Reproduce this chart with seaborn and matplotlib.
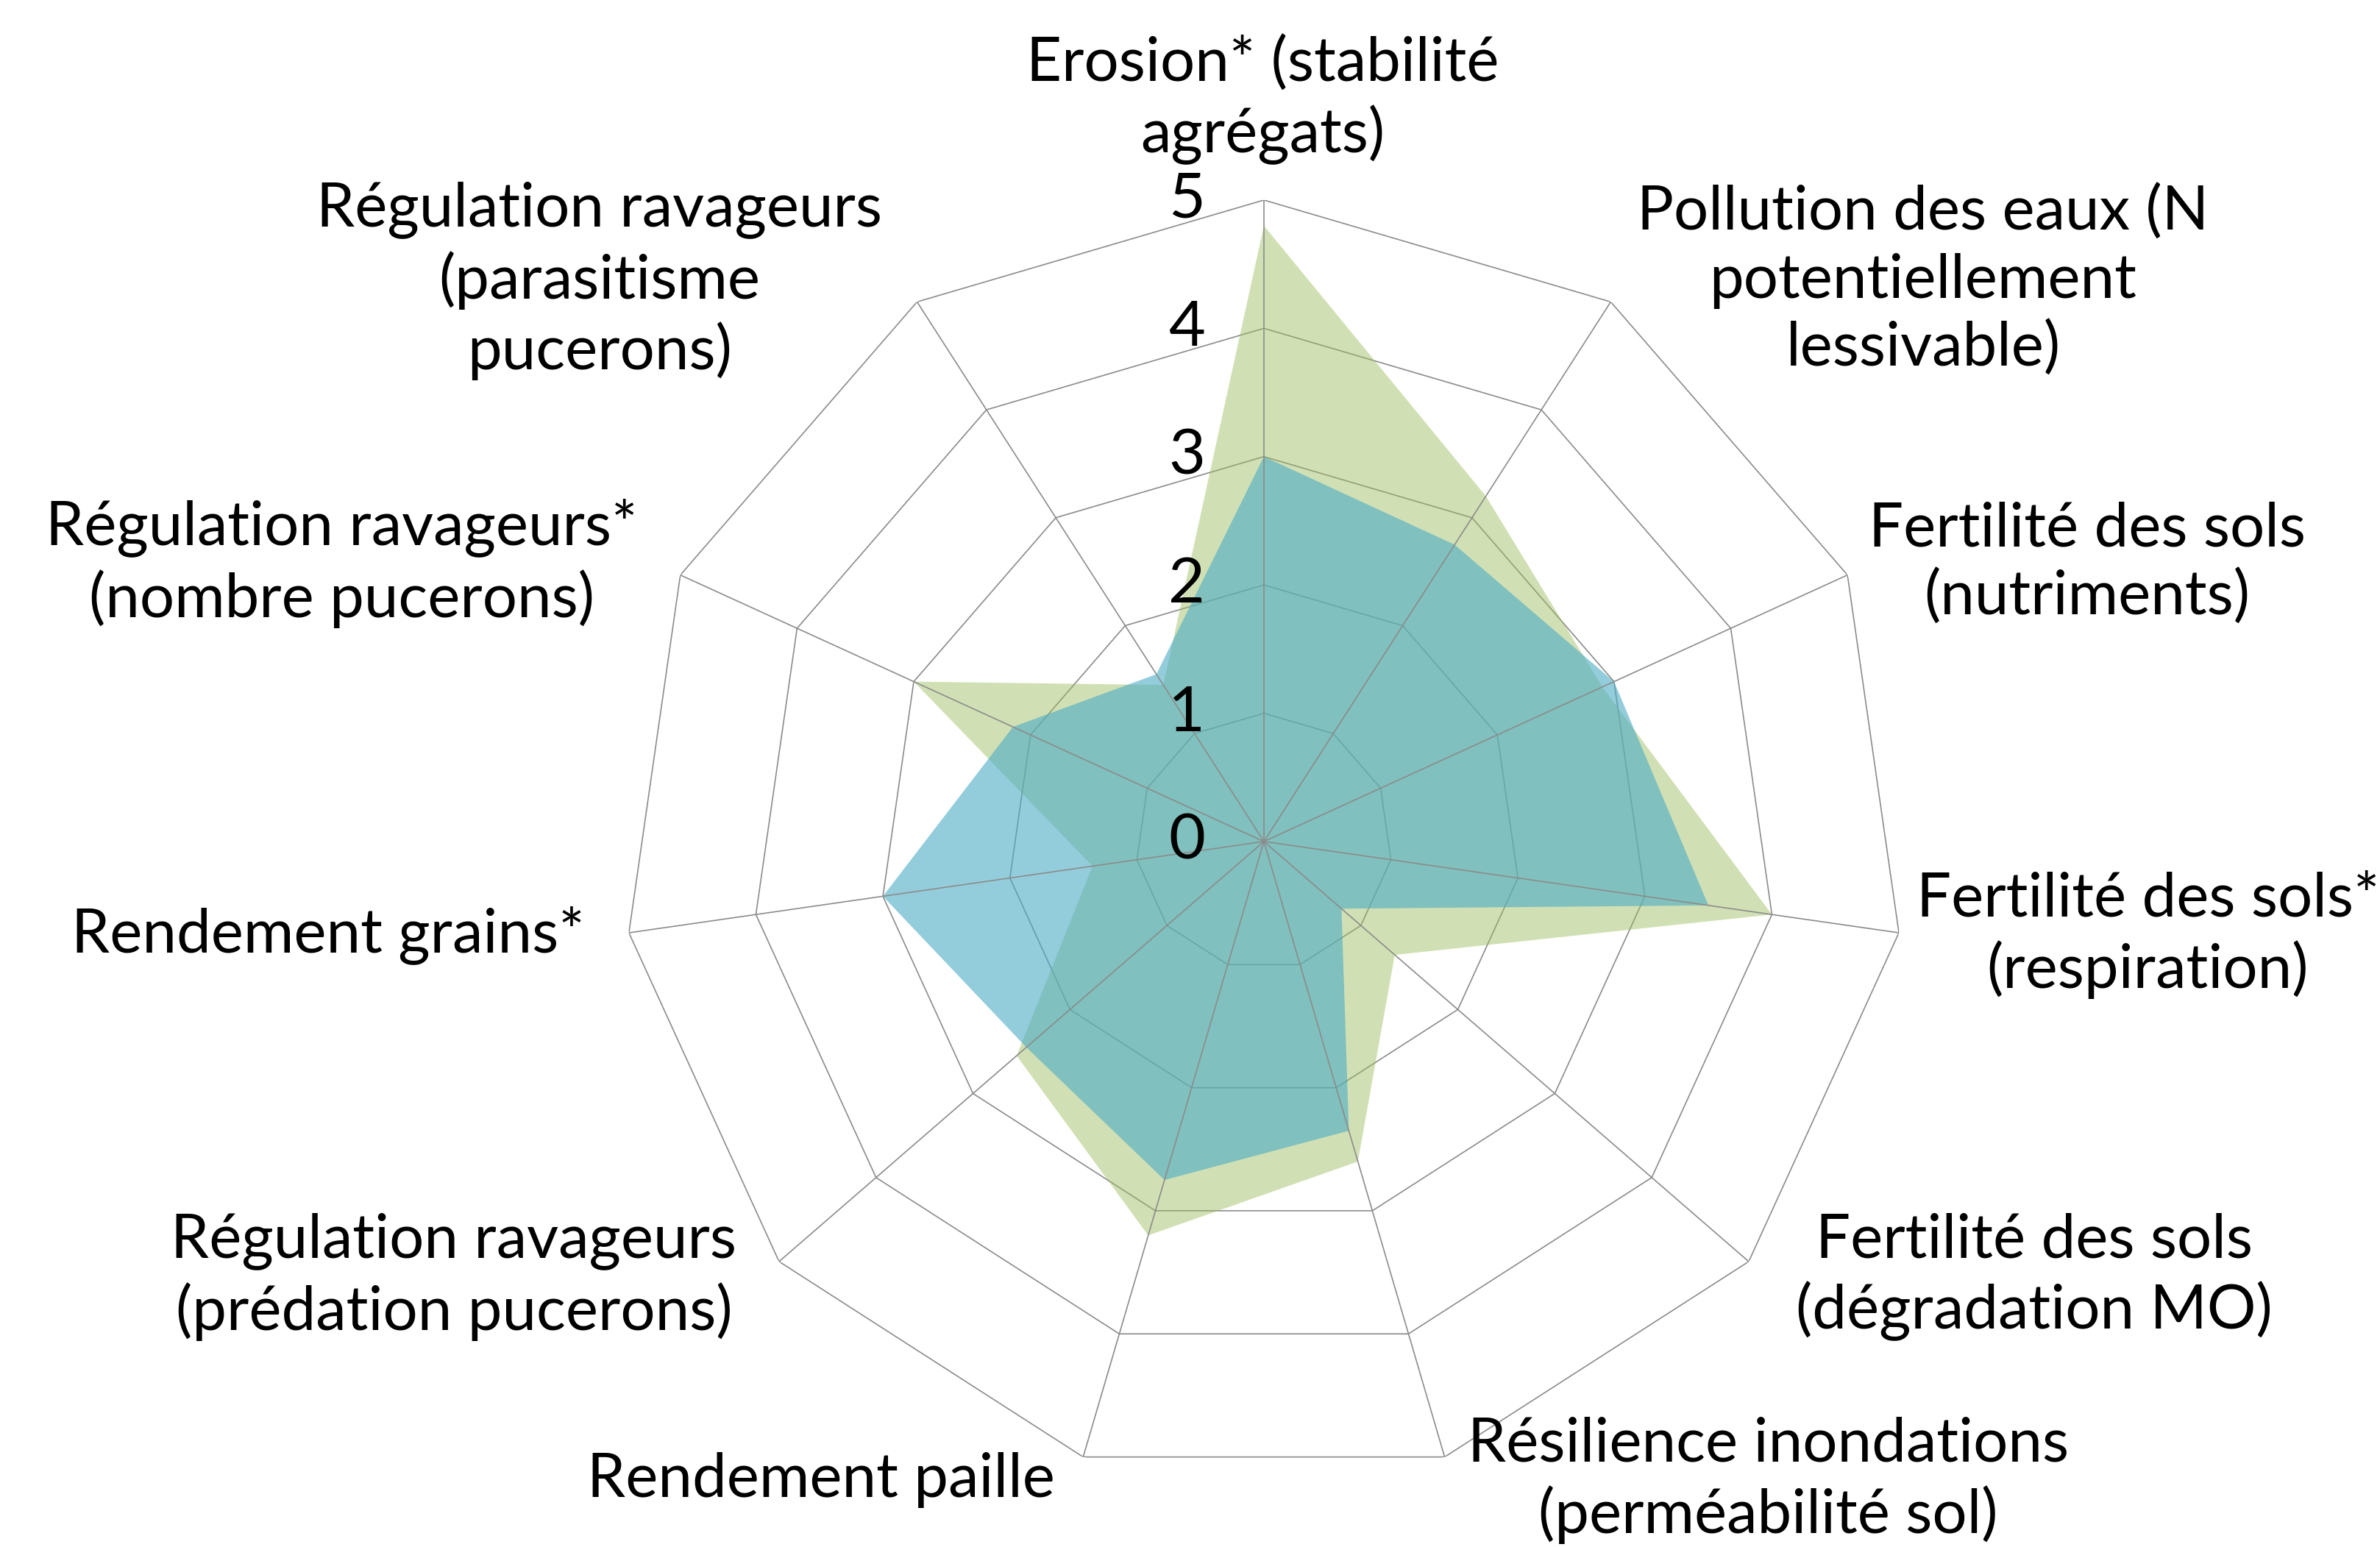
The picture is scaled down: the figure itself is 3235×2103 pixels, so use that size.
import numpy as np
import matplotlib
matplotlib.use("Agg")
import matplotlib.pyplot as plt
import seaborn as sns
from matplotlib.transforms import ScaledTranslation

# ---------------- data ----------------
categories = [
    "Erosion* (stabilité\nagrégats)",
    "Pollution des eaux (N\npotentiellement\nlessivable)",
    "Fertilité des sols\n(nutriments)",
    "Fertilité des sols*\n(respiration)",
    "Fertilité des sols\n(dégradation MO)",
    "Résilience inondations\n(perméabilité sol)",
    "Rendement paille",
    "Régulation ravageurs\n(prédation pucerons)",
    "Rendement grains*",
    "Régulation ravageurs*\n(nombre pucerons)",
    "Régulation ravageurs\n(parasitisme\npucerons)",
]
series_green = [4.8, 3.2, 2.9, 4.0, 1.35, 2.6, 3.2, 2.55, 1.35, 3.0, 1.45]
series_blue = [3.0, 2.75, 3.0, 3.5, 0.8, 2.35, 2.75, 2.45, 3.0, 2.15, 1.55]
r_ticks = [0, 1, 2, 3, 4, 5]

# label centres (in 1568x1019 reference preview coordinates)
label_pos = [(832, 66), (1267, 185), (1375, 371), (1415, 616), (1340, 841),
             (1165, 975), (541, 975), (299, 841), (216, 616), (225, 371), (395, 185)]

# ---------------- style ----------------
sns.set_theme(style="white")
plt.rcParams['font.family'] = ['Lato', 'DejaVu Sans']

W, H, dpi = 3235, 2103, 200
fig = plt.figure(figsize=(W / dpi, H / dpi), dpi=dpi)
fig.patch.set_facecolor("white")
ax = fig.add_axes([0.2615, 0.0414, 0.5391, 0.8293], projection='polar')
ax.set_theta_offset(np.pi / 2)
ax.set_theta_direction(-1)
ax.set_ylim(0, 5)
ax.grid(False)
ax.spines['polar'].set_visible(False)
ax.set_xticks([])
ax.set_yticks([])
ax.patch.set_alpha(0)

n = len(categories)
theta = np.arange(n) * 2 * np.pi / n
tc = np.append(theta, theta[0])

def closed(v):
    return list(v) + [v[0]]

grid_col = '#8c8c8c'
for r in r_ticks[1:]:
    ax.plot(tc, [r] * (n + 1), color=grid_col, lw=0.6, zorder=1)
for t in theta:
    ax.plot([t, t], [0, max(r_ticks)], color=grid_col, lw=0.6, zorder=4)

ax.fill(tc, closed(series_green), color='#9BBB59', alpha=0.45, lw=0, zorder=2)
ax.fill(tc, closed(series_blue), color='#4BACC6', alpha=0.6, lw=0, zorder=3)

fs = 30
off = ScaledTranslation(-105 / dpi, 0, fig.dpi_scale_trans)
for k in r_ticks:
    ax.text(0, k, str(k), transform=ax.transData + off, ha='center', va='center',
            fontsize=fs + 1, color='black', zorder=5)

for lab, (x, y) in zip(categories, label_pos):
    fig.text(x / 1568, 1 - y / 1019, lab, ha='center', va='center',
             multialignment='center', fontsize=fs, color='black', linespacing=1.26)

fig.savefig("out.png", dpi=dpi, facecolor="white")
